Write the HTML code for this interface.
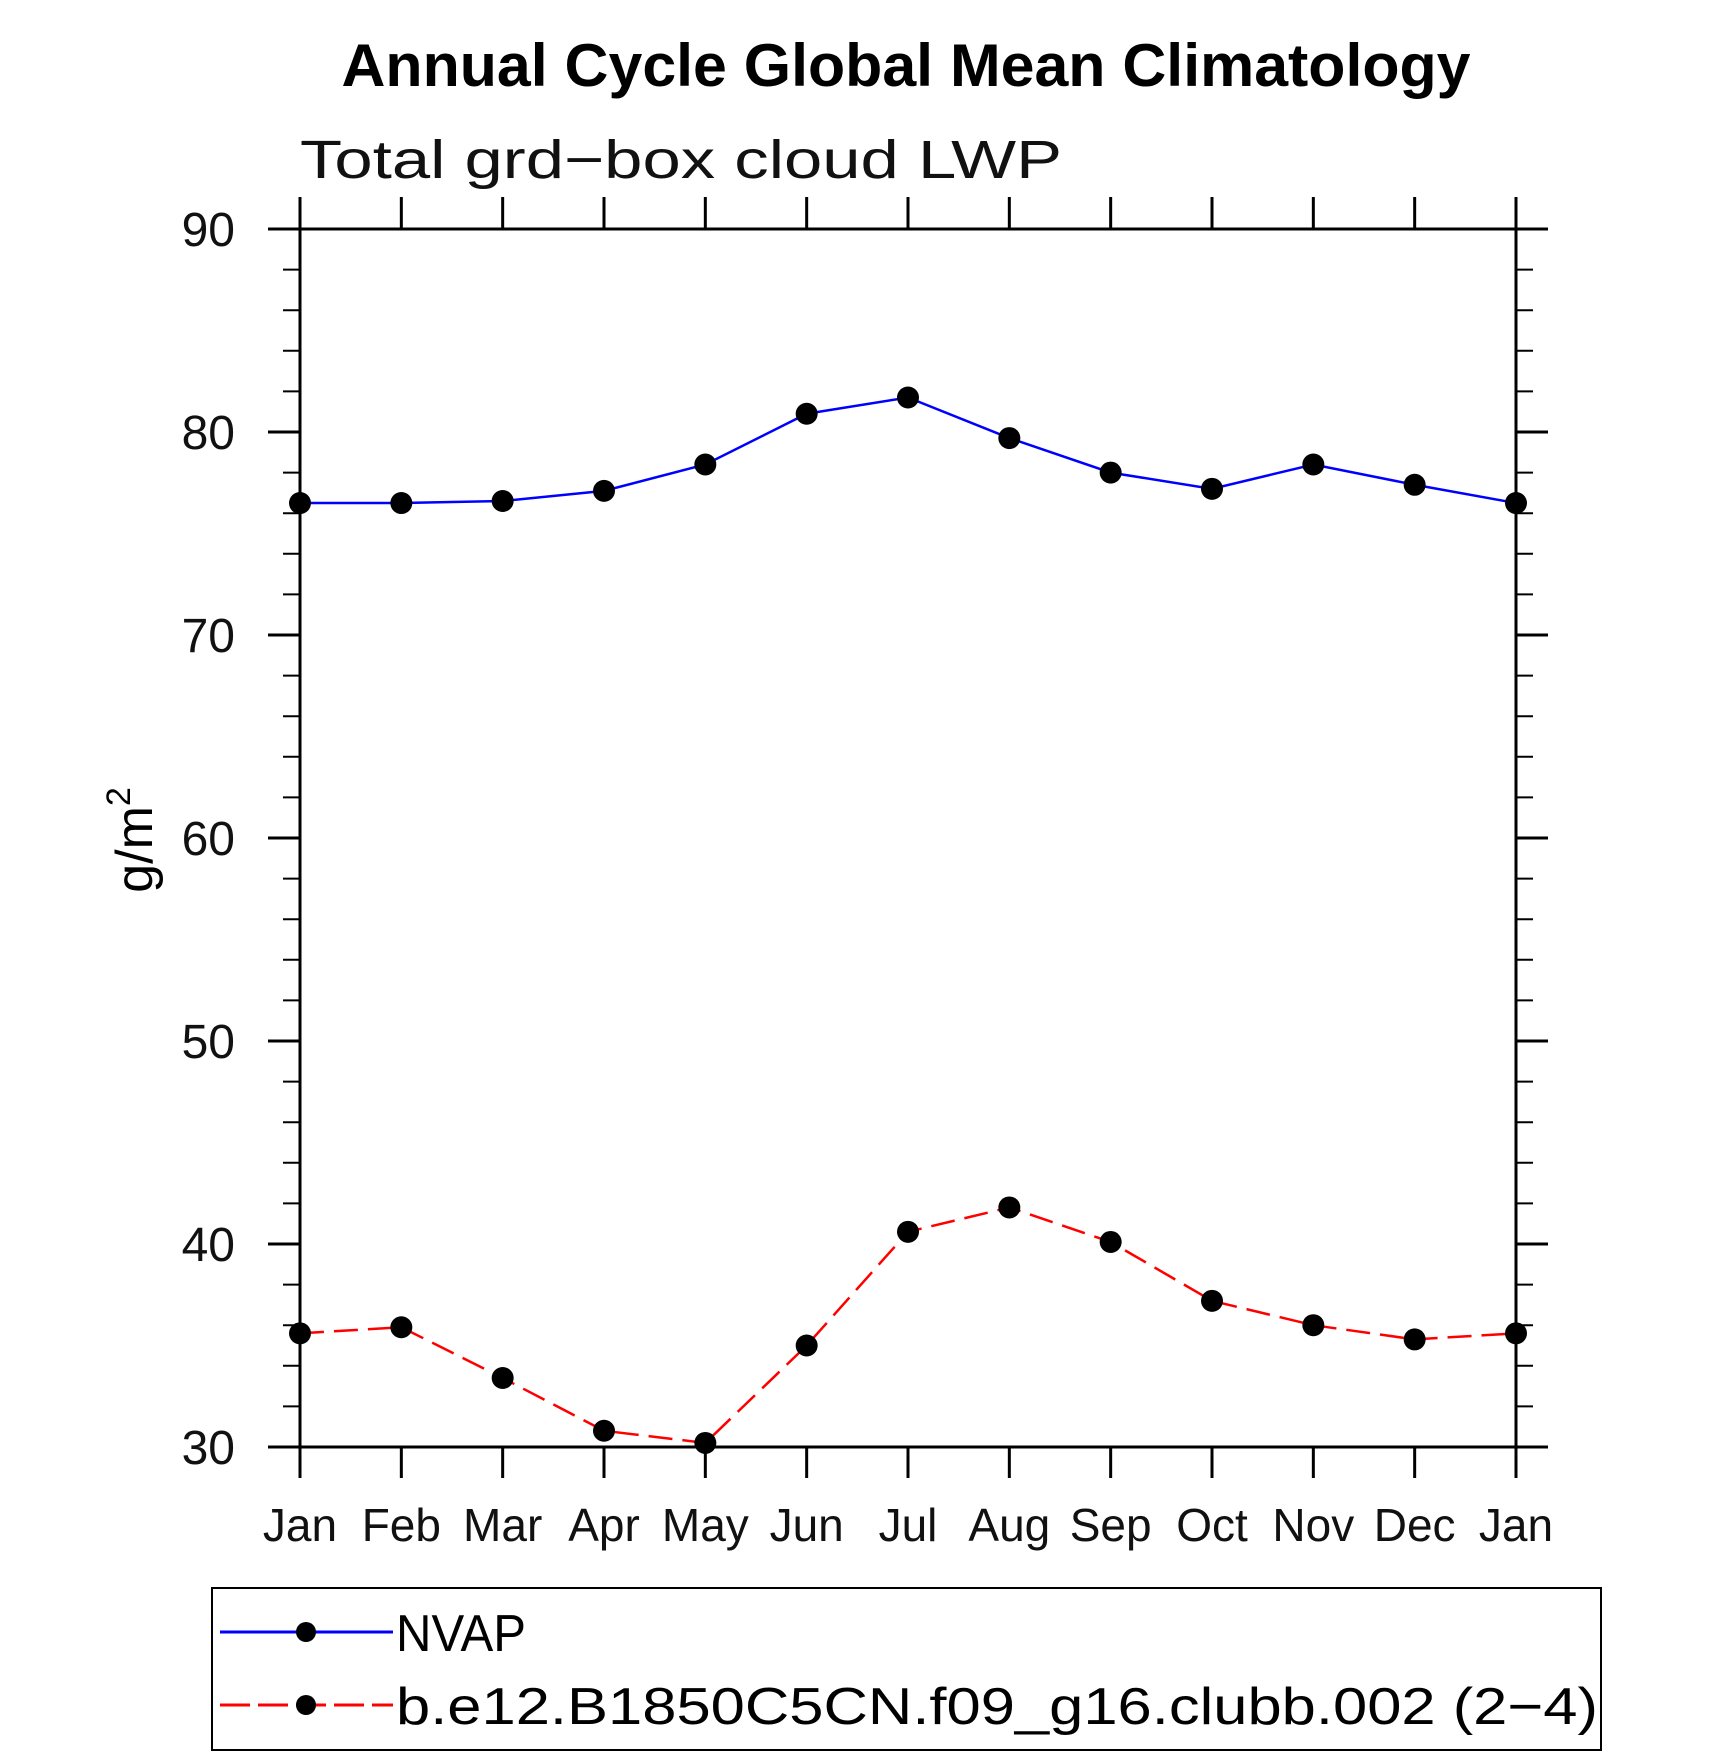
<!DOCTYPE html>
<html><head><meta charset="utf-8"><style>
html,body{margin:0;padding:0;background:#fff;}
svg{display:block;font-family:"Liberation Sans",sans-serif;}
</style></head><body>
<svg id="chart" width="1710" height="1757" viewBox="0 0 1710 1757">
<text x="906" y="86" text-anchor="middle" font-size="60" font-weight="bold" textLength="1129" lengthAdjust="spacingAndGlyphs">Annual Cycle Global Mean Climatology</text>
<text x="300" y="178" font-size="54" font-weight="300" textLength="762" lengthAdjust="spacingAndGlyphs" fill="#111">Total grd−box cloud LWP</text>
<g id="axes"></g>
<g id="series"></g>
<text transform="translate(152,840) rotate(-90)" text-anchor="middle" font-size="52">g/m<tspan dy="-22" font-size="34">2</tspan></text>
<g>
<rect x="212" y="1588" width="1389" height="162" fill="none" stroke="#000" stroke-width="2"/>
<g>
<line x1="220" y1="1632" x2="393" y2="1632" stroke="#0000ff" stroke-width="3"/>
<circle cx="306" cy="1632" r="10" fill="#000"/>
<text x="396" y="1651" font-size="52" textLength="130" lengthAdjust="spacingAndGlyphs">NVAP</text>
</g>
<g>
<line x1="220" y1="1705" x2="393" y2="1705" stroke="#ff0000" stroke-width="3" stroke-dasharray="30,8"/>
<circle cx="306" cy="1705" r="10" fill="#000"/>
<text x="396" y="1724" font-size="52" textLength="1202" lengthAdjust="spacingAndGlyphs">b.e12.B1850C5CN.f09_g16.clubb.002 (2−4)</text>
</g>
</g>
</svg>
<script>
const months = ["Jan","Feb","Mar","Apr","May","Jun","Jul","Aug","Sep","Oct","Nov","Dec","Jan"];
const nvapValues = [76.5,76.5,76.6,77.1,78.4,80.9,81.7,79.7,78.0,77.2,78.4,77.4,76.5];
const modelValues = [35.6,35.9,33.4,30.8,30.2,35.0,40.6,41.8,40.1,37.2,36.0,35.3,35.6];
const yTicks = [30,40,50,60,70,80,90];

const NS="http://www.w3.org/2000/svg";
const L=300,R=1516,T=229,B=1447,YMIN=30,YMAX=90;
function xs(i){return L+(R-L)*i/(months.length-1);}
function ys(v){return B-(B-T)*(v-YMIN)/(YMAX-YMIN);}
function mk(tag,attrs,parent){const e=document.createElementNS(NS,tag);for(const k in attrs)e.setAttribute(k,attrs[k]);parent.appendChild(e);return e;}
const axes=document.getElementById('axes');
const frame=mk('rect',{x:L,y:T,width:R-L,height:B-T,fill:'none',stroke:'#000','stroke-width':3},axes);


for(let v=YMIN;v<=YMAX;v+=2){
  const y=ys(v);const major=(v%10===0);
  const len=major?32:17;
  const t1=mk('line',{x1:L-len,y1:y,x2:L,y2:y,stroke:'#000','stroke-width':major?3:2},axes);
  
  
  const t2=mk('line',{x1:R,y1:y,x2:R+len,y2:y,stroke:'#000','stroke-width':major?3:2},axes);
  
  
}
yTicks.forEach(v=>{
  const t=mk('text',{x:235,y:ys(v)+17,'text-anchor':'end','font-size':48,fill:'#111'},axes);
  t.textContent=v;
  
  
});
months.forEach((m,i)=>{
  const x=xs(i);
  const a=mk('line',{x1:x,y1:T-32,x2:x,y2:T,stroke:'#000','stroke-width':3},axes);
  
  
  const b=mk('line',{x1:x,y1:B,x2:x,y2:B+31,stroke:'#000','stroke-width':3},axes);
  
  
  const t=mk('text',{x:x,y:1541,'text-anchor':'middle','font-size':46,fill:'#111'},axes);
  t.textContent=m;
  
  
});
const series=document.getElementById('series');
function draw(vals,color,dash,name){
  const pts=vals.map((v,i)=>xs(i)+','+ys(v)).join(' ');
  const pl=mk('polyline',{points:pts,fill:'none',stroke:color,'stroke-width':2.5},series);
  if(dash)pl.setAttribute('stroke-dasharray',dash);
  
  
  vals.forEach((v,i)=>{
    const c=mk('circle',{cx:xs(i),cy:ys(v),r:11,fill:'#000'},series);
    
    
  });
}
draw(nvapValues,'#0000ff',null,'nvap');
draw(modelValues,'#ff0000','24,10','model');
</script>
</body></html>
